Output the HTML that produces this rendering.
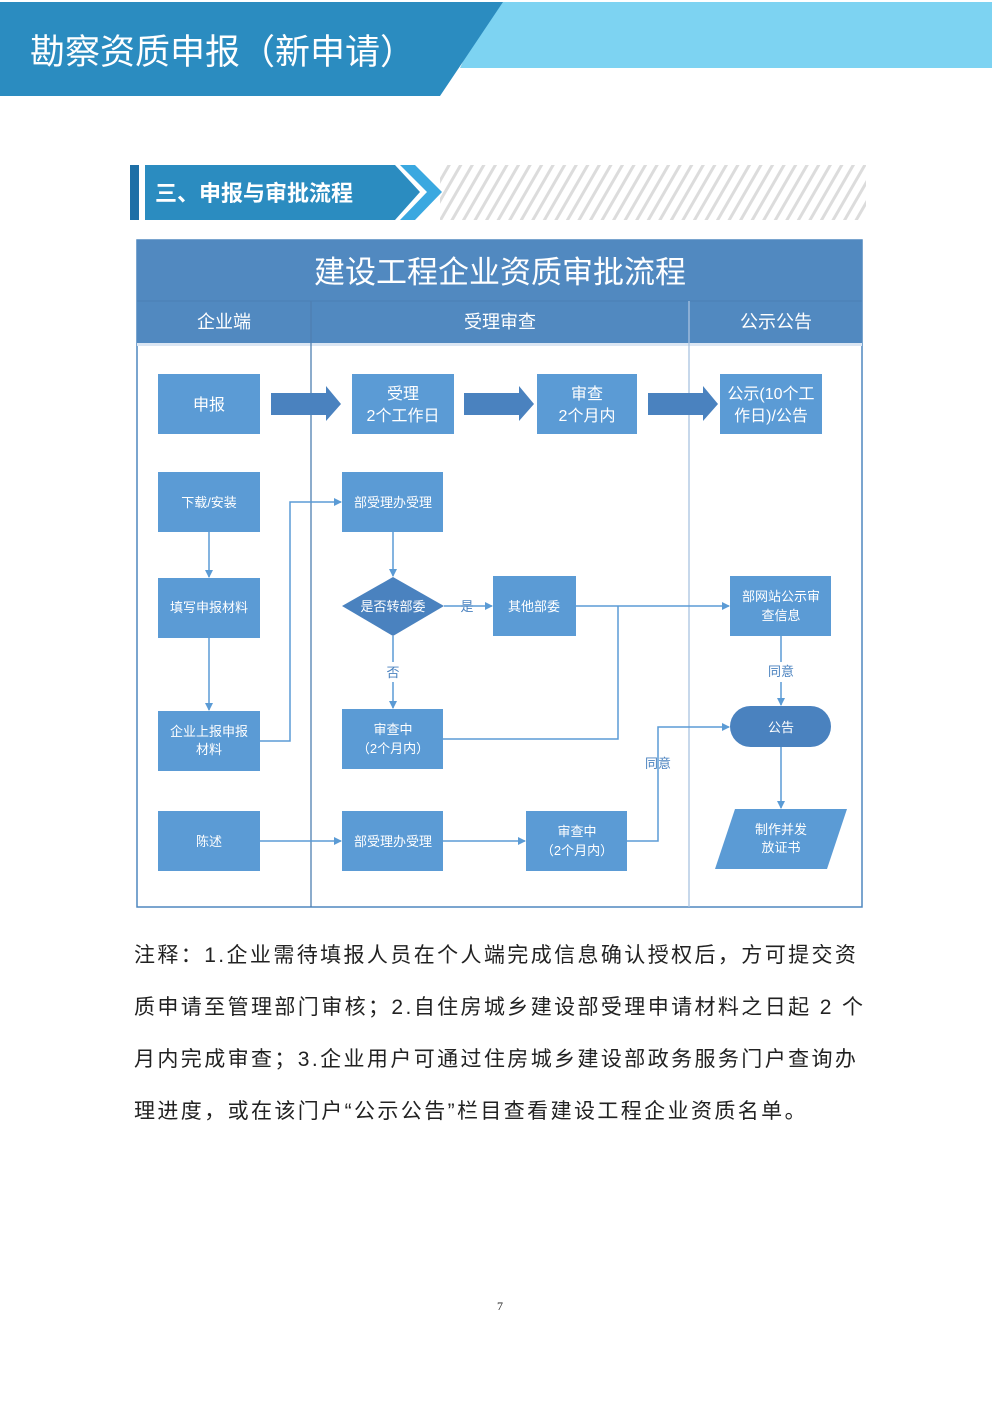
<!DOCTYPE html>
<html><head><meta charset="utf-8"><style>
body{margin:0;width:992px;height:1403px;background:#fff;position:relative;overflow:hidden;font-family:"Liberation Sans","Noto Sans CJK SC",sans-serif}
svg{position:absolute;left:0;top:0}
.n{position:absolute;left:134px;font-size:21px;letter-spacing:2.4px;color:#222;white-space:nowrap}
</style></head><body>
<svg width="992" height="1403" viewBox="0 0 992 1403" font-family="Liberation Sans, Noto Sans CJK SC, sans-serif">
<defs>
<pattern id="h" width="10" height="10" patternUnits="userSpaceOnUse" patternTransform="rotate(30)"><rect width="10" height="10" fill="#fff"/><rect width="3" height="10" fill="#dcdcdc"/></pattern>
<marker id="a" markerWidth="8" markerHeight="8" refX="7" refY="4" orient="auto" markerUnits="userSpaceOnUse"><path d="M0,0 L8,4 L0,8 z" fill="#5b9bd5"/></marker>
</defs>
<polygon points="490,2 992,2 992,68 460,68" fill="#7dd3f2"/>
<polygon points="0,2 503,2 440,96 0,96" fill="#2b8cc0"/>
<text x="30" y="64" font-size="35" fill="#fff">勘察资质申报（新申请）</text>
<rect x="440" y="165" width="426" height="55" fill="url(#h)"/>
<rect x="130" y="165" width="9" height="55" fill="#1e6fa6"/>
<polygon points="145,165 395,165 420,192 395,220 145,220" fill="#2b8cc0"/>
<polygon points="400,165 415,165 442,192 415,220 400,220 427,192" fill="#3aa8e0"/>
<text x="155" y="201" font-size="22" fill="#fff" font-weight="bold">三、申报与审批流程</text>
<rect x="137" y="240" width="725" height="667" fill="#fff" stroke="#4f87bf" stroke-width="1.5"/>
<rect x="137" y="240" width="725" height="103" fill="#5189c0"/>
<line x1="137" y1="301" x2="862" y2="301" stroke="#4a7fb5"/>
<text x="500" y="283" font-size="31" fill="#fff" text-anchor="middle">建设工程企业资质审批流程</text>
<g font-size="18" fill="#fff" text-anchor="middle"><text x="224" y="328">企业端</text><text x="500" y="328">受理审查</text><text x="776" y="328">公示公告</text></g>
<rect x="137" y="343" width="725" height="3" fill="#dbe6f3"/>
<line x1="311" y1="301" x2="311" y2="907" stroke="#4f7fb0" stroke-width="1.3"/>
<line x1="689" y1="301" x2="689" y2="907" stroke="#a9c3e0" stroke-width="1.3"/>
<g fill="#4a82bf">
<polygon points="271,393 326,393 326,386 341,404 326,421 326,415 271,415"/>
<polygon points="464,393 519,393 519,386 534,404 519,421 519,415 464,415"/>
<polygon points="648,393 703,393 703,386 718,404 703,421 703,415 648,415"/>
</g>
<g fill="#5b9bd5">
<rect x="158" y="374" width="102" height="60"/><rect x="352" y="374" width="102" height="60"/>
<rect x="537" y="374" width="100" height="60"/><rect x="720" y="374" width="102" height="60"/>
<rect x="158" y="472" width="102" height="60"/><rect x="158" y="578" width="102" height="60"/>
<rect x="158" y="711" width="102" height="60"/><rect x="158" y="811" width="102" height="60"/>
<rect x="342" y="472" width="101" height="60"/><rect x="493" y="576" width="83" height="60"/>
<rect x="342" y="709" width="101" height="60"/><rect x="342" y="811" width="101" height="60"/>
<rect x="526" y="811" width="101" height="60"/><rect x="730" y="576" width="101" height="60"/>
<polygon points="735,809 847,809 827,869 715,869"/>
</g>
<polygon points="393,577 444,606 393,636 342,606" fill="#4a82bf"/>
<rect x="730" y="706" width="101" height="41" rx="20.5" fill="#4a82bf"/>
<g stroke="#5b9bd5" stroke-width="1.5" fill="none" marker-end="url(#a)">
<line x1="209" y1="532" x2="209" y2="577"/><line x1="209" y1="638" x2="209" y2="710"/>
<polyline points="260,741 290,741 290,502 341,502"/>
<line x1="393" y1="532" x2="393" y2="576"/>
<line x1="444" y1="606" x2="492" y2="606"/>
<line x1="393" y1="682" x2="393" y2="708"/>
<polyline points="576,606 729,606"/>
<line x1="781" y1="682" x2="781" y2="705"/>
<line x1="781" y1="747" x2="781" y2="808"/>
<line x1="260" y1="841" x2="341" y2="841"/><line x1="443" y1="841" x2="525" y2="841"/>
<polyline points="627,841 658,841 658,727 729,727"/>
</g>
<g stroke="#5b9bd5" stroke-width="1.5" fill="none">
<line x1="393" y1="636" x2="393" y2="662"/><line x1="781" y1="636" x2="781" y2="662"/>
<polyline points="443,739 618,739 618,606"/>
</g>
<g fill="#fff" text-anchor="middle" font-size="16">
<text x="209" y="410">申报</text>
<text x="403" y="399">受理</text><text x="403" y="421">2个工作日</text>
<text x="587" y="399">审查</text><text x="587" y="421">2个月内</text>
<text x="771" y="399">公示(10个工</text><text x="771" y="421">作日)/公告</text>
</g>
<g fill="#fff" text-anchor="middle" font-size="13">
<text x="209" y="507">下载/安装</text><text x="209" y="612">填写申报材料</text>
<text x="209" y="736">企业上报申报</text><text x="209" y="754">材料</text>
<text x="209" y="846">陈述</text>
<text x="393" y="507">部受理办受理</text><text x="393" y="611">是否转部委</text>
<text x="534" y="611">其他部委</text>
<text x="393" y="734">审查中</text><text x="393" y="753">（2个月内）</text>
<text x="393" y="846">部受理办受理</text>
<text x="577" y="836">审查中</text><text x="577" y="855">（2个月内）</text>
<text x="781" y="601">部网站公示审</text><text x="781" y="620">查信息</text>
<text x="781" y="732">公告</text>
<text x="781" y="834">制作并发</text><text x="781" y="852">放证书</text>
</g>
<g fill="#4a82bf" text-anchor="middle" font-size="13">
<text x="467" y="611">是</text><text x="393" y="677">否</text>
<text x="781" y="676">同意</text><text x="658" y="768">同意</text>
</g>
<text x="500" y="1310" font-size="12" text-anchor="middle" fill="#222" font-family="Liberation Serif, serif">7</text>
</svg>
<div class="n" style="top:939px">注释：1.企业需待填报人员在个人端完成信息确认授权后，方可提交资</div>
<div class="n" style="top:991px">质申请至管理部门审核；2.自住房城乡建设部受理申请材料之日起 2 个</div>
<div class="n" style="top:1043px">月内完成审查；3.企业用户可通过住房城乡建设部政务服务门户查询办</div>
<div class="n" style="top:1095px">理进度，或在该门户“公示公告”栏目查看建设工程企业资质名单。</div>
</body></html>
